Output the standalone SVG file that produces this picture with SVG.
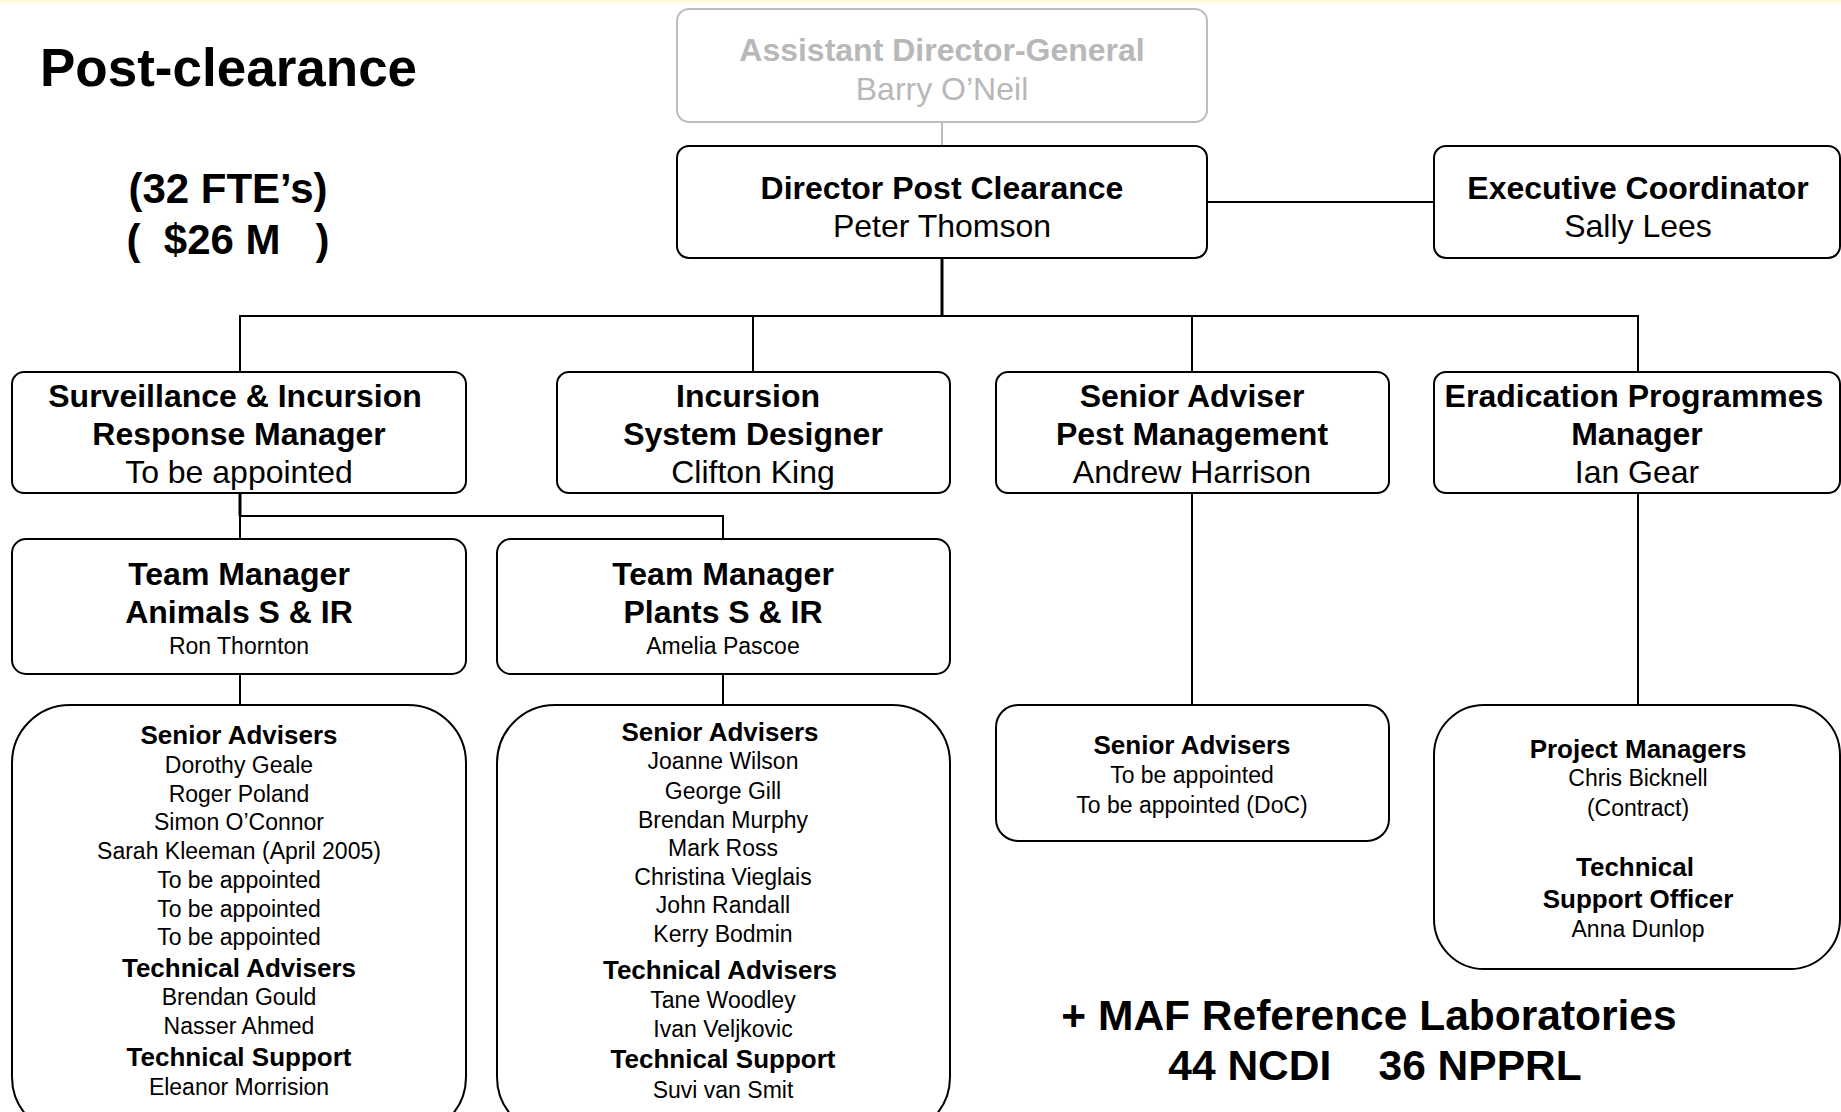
<svg xmlns="http://www.w3.org/2000/svg" width="1841" height="1112" viewBox="0 0 1841 1112">
<style>
text{font-family:"Liberation Sans",Arial,sans-serif;text-anchor:middle;fill:#000}
.b{font-weight:bold}
.box{fill:#fff;stroke:#000;stroke-width:2}
.gbox{fill:#fff;stroke:#bdbdbd;stroke-width:2}
.c{fill:none;stroke:#000;stroke-width:2}
.t32{font-size:32px}
.t24{font-size:23px}
.h26{font-size:26px}
.g{fill:#b8b8b8}
</style>
<rect x="0" y="0" width="1841" height="1112" fill="#fff"/>
<rect x="0" y="0" width="1841" height="3" fill="#fffbd8"/>
<g id="title">
<text x="40" y="86" class="b" style="font-size:53px;text-anchor:start">Post-clearance</text>
<text x="228" y="203" class="b" style="font-size:42px">(32 FTE’s)</text>
<text x="228" y="254" class="b" style="font-size:42px" xml:space="preserve">(  $26 M   )</text>
</g>
<g id="connectors">
<line x1="942" y1="122" x2="942" y2="146" stroke="#bdbdbd" stroke-width="2"/>
<line x1="1207" y1="202" x2="1434" y2="202" class="c"/>
<line x1="942" y1="258" x2="942" y2="316" class="c" style="stroke-width:3"/>
<polyline points="240,372 240,316 1638,316 1638,372" class="c"/>
<line x1="753" y1="316" x2="753" y2="372" class="c"/>
<line x1="1192" y1="316" x2="1192" y2="372" class="c"/>
<line x1="240" y1="493" x2="240" y2="516" class="c" style="stroke-width:3"/>
<polyline points="240,516 723,516 723,539" class="c"/>
<line x1="240" y1="516" x2="240" y2="539" class="c"/>
<line x1="240" y1="674" x2="240" y2="705" class="c"/>
<line x1="723" y1="674" x2="723" y2="705" class="c"/>
<line x1="1192" y1="493" x2="1192" y2="705" class="c"/>
<line x1="1638" y1="493" x2="1638" y2="705" class="c"/>
</g>
<g id="adg">
<rect x="677" y="9" width="530" height="113" rx="12" class="gbox"/>
<text x="942" y="61" class="b t32 g">Assistant Director-General</text>
<text x="942" y="100" class="t32 g">Barry O’Neil</text>
</g>
<g id="director">
<rect x="677" y="146" width="530" height="112" rx="12" class="box"/>
<text x="942" y="199" class="b t32">Director Post Clearance</text>
<text x="942" y="237" class="t32">Peter Thomson</text>
</g>
<g id="exec">
<rect x="1434" y="146" width="406" height="112" rx="12" class="box"/>
<text x="1638" y="199" class="b t32">Executive Coordinator</text>
<text x="1638" y="237" class="t32">Sally Lees</text>
</g>
<g id="surveillance">
<rect x="12" y="372" width="454" height="121" rx="12" class="box"/>
<text x="235" y="407" class="b t32">Surveillance &amp; Incursion</text>
<text x="239" y="445" class="b t32">Response Manager</text>
<text x="239" y="483" class="t32">To be appointed</text>
</g>
<g id="designer">
<rect x="557" y="372" width="393" height="121" rx="12" class="box"/>
<text x="748" y="407" class="b t32">Incursion</text>
<text x="753" y="445" class="b t32">System Designer</text>
<text x="753" y="483" class="t32">Clifton King</text>
</g>
<g id="pest">
<rect x="996" y="372" width="393" height="121" rx="12" class="box"/>
<text x="1192" y="407" class="b t32">Senior Adviser</text>
<text x="1192" y="445" class="b t32">Pest Management</text>
<text x="1192" y="483" class="t32">Andrew Harrison</text>
</g>
<g id="eradication">
<rect x="1434" y="372" width="406" height="121" rx="12" class="box"/>
<text x="1634" y="407" class="b t32">Eradication Programmes</text>
<text x="1637" y="445" class="b t32">Manager</text>
<text x="1637" y="483" class="t32">Ian Gear</text>
</g>
<g id="tm-animals">
<rect x="12" y="539" width="454" height="135" rx="14" class="box"/>
<text x="239" y="585" class="b t32">Team Manager</text>
<text x="239" y="623" class="b t32">Animals S &amp; IR</text>
<text x="239" y="654" class="t24">Ron Thornton</text>
</g>
<g id="tm-plants">
<rect x="497" y="539" width="453" height="135" rx="14" class="box"/>
<text x="723" y="585" class="b t32">Team Manager</text>
<text x="723" y="623" class="b t32">Plants S &amp; IR</text>
<text x="723" y="654" class="t24">Amelia Pascoe</text>
</g>
<g id="animals-staff">
<rect x="12" y="705" width="454" height="430" rx="58" class="box"/>
<text x="239" y="744" class="b h26">Senior Advisers</text>
<text x="239" y="773" class="t24">Dorothy Geale</text>
<text x="239" y="802" class="t24">Roger Poland</text>
<text x="239" y="830" class="t24">Simon O’Connor</text>
<text x="239" y="859" class="t24">Sarah Kleeman (April 2005)</text>
<text x="239" y="888" class="t24">To be appointed</text>
<text x="239" y="917" class="t24">To be appointed</text>
<text x="239" y="945" class="t24">To be appointed</text>
<text x="239" y="977" class="b h26">Technical Advisers</text>
<text x="239" y="1005" class="t24">Brendan Gould</text>
<text x="239" y="1034" class="t24">Nasser Ahmed</text>
<text x="239" y="1066" class="b h26">Technical Support</text>
<text x="239" y="1095" class="t24">Eleanor Morrision</text>
</g>
<g id="plants-staff">
<rect x="497" y="705" width="453" height="430" rx="58" class="box"/>
<text x="720" y="741" class="b h26">Senior Advisers</text>
<text x="723" y="769" class="t24">Joanne Wilson</text>
<text x="723" y="799" class="t24">George Gill</text>
<text x="723" y="828" class="t24">Brendan Murphy</text>
<text x="723" y="856" class="t24">Mark Ross</text>
<text x="723" y="885" class="t24">Christina Vieglais</text>
<text x="723" y="913" class="t24">John Randall</text>
<text x="723" y="942" class="t24">Kerry Bodmin</text>
<text x="720" y="979" class="b h26">Technical Advisers</text>
<text x="723" y="1008" class="t24">Tane Woodley</text>
<text x="723" y="1037" class="t24">Ivan Veljkovic</text>
<text x="723" y="1068" class="b h26">Technical Support</text>
<text x="723" y="1098" class="t24">Suvi van Smit</text>
</g>
<g id="pest-staff">
<rect x="996" y="705" width="393" height="136" rx="22" class="box"/>
<text x="1192" y="754" class="b h26">Senior Advisers</text>
<text x="1192" y="783" class="t24">To be appointed</text>
<text x="1192" y="813" class="t24">To be appointed (DoC)</text>
</g>
<g id="eradication-staff">
<rect x="1434" y="705" width="406" height="264" rx="50" class="box"/>
<text x="1638" y="758" class="b h26">Project Managers</text>
<text x="1638" y="786" class="t24">Chris Bicknell</text>
<text x="1638" y="816" class="t24">(Contract)</text>
<text x="1635" y="876" class="b h26">Technical</text>
<text x="1638" y="908" class="b h26">Support Officer</text>
<text x="1638" y="937" class="t24">Anna Dunlop</text>
</g>
<g id="labs">
<text x="1369" y="1030" class="b" style="font-size:42.5px">+ MAF Reference Laboratories</text>
<text x="1375" y="1080" class="b" style="font-size:42.5px" xml:space="preserve">44 NCDI    36 NPPRL</text>
</g>
</svg>
